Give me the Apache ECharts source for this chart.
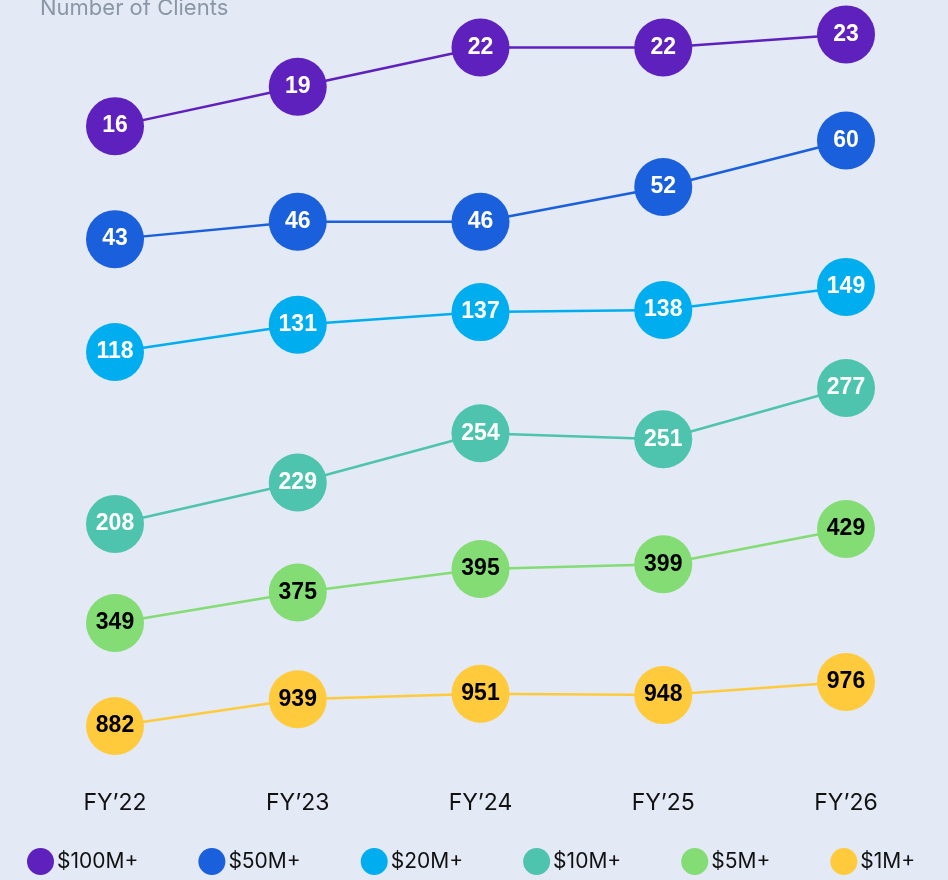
<!DOCTYPE html>
<html>
<head>
<meta charset="utf-8">
<script src="https://cdn.jsdelivr.net/npm/echarts@6/dist/echarts.min.js"></script>
<style>
  html, body { margin: 0; padding: 0; background: #E3E9F5; }
  #chart { width: 948px; height: 880px; }
</style>
</head>
<body>
<div id="chart"></div>
<script>
const years = ['FY’22', 'FY’23', 'FY’24', 'FY’25', 'FY’26']
const tierNames = ['$100M+', '$50M+', '$20M+', '$10M+', '$5M+', '$1M+']
const clients100M = [16, 19, 22, 22, 23]
const clients50M = [43, 46, 46, 52, 60]
const clients20M = [118, 131, 137, 138, 149]
const clients10M = [208, 229, 254, 251, 277]
const clients5M = [349, 375, 395, 399, 429]
const clients1M = [882, 939, 951, 948, 976]

const seriesData = [clients100M, clients50M, clients20M, clients10M, clients5M, clients1M]
const colors = ['#5E21BE', '#1A5FDB', '#00AEEF', '#4EC4AE', '#84DC74', '#FFCB3D']
const labelColors = ['#fff', '#fff', '#fff', '#fff', '#000', '#000']
// each tier sits in its own band, so each gets its own hidden y axis
const axisRanges = [
  [-33.9, 24.1],
  [-50.3, 80.8],
  [-85.8, 276.1],
  [78.0, 463.8],
  [215.4, 862.2],
  [766.6, 2390.5]
]

const chart = echarts.init(document.getElementById('chart'))
const option = {
  backgroundColor: '#E3E9F5',
  animation: false,
  title: {
    text: 'Number of Clients',
    left: 35,
    top: -8,
    textStyle: { color: '#8A97A6', fontSize: 22, fontWeight: 'normal', fontFamily: 'Inter' }
  },
  legend: {
    data: tierNames,
    bottom: 0,
    left: 22,
    icon: 'circle',
    itemWidth: 27,
    itemHeight: 27,
    itemGap: 60,
    textStyle: { color: '#111', fontSize: 21, fontFamily: 'Inter', padding: [0, 0, 0, -2] }
  },
  grid: { top: 20, height: 760, left: 115, right: 102 },
  xAxis: {
    type: 'category',
    boundaryGap: false,
    data: years,
    axisLine: { show: false },
    axisTick: { show: false },
    axisLabel: { margin: 12, color: '#111', fontSize: 23, fontFamily: 'Inter' }
  },
  yAxis: axisRanges.map(r => ({ type: 'value', min: r[0], max: r[1], show: false })),
  series: seriesData.map((d, i) => ({
    name: tierNames[i],
    type: 'line',
    yAxisIndex: i,
    data: d,
    color: colors[i],
    symbol: 'circle',
    symbolSize: 58,
    lineStyle: { width: 2.5, color: colors[i] },
    itemStyle: { color: colors[i] },
    label: {
      show: true,
      position: 'inside',
      color: labelColors[i],
      fontSize: 23,
      fontWeight: 'bold',
      fontFamily: 'Liberation Sans'
    }
  }))
}
chart.setOption(option)
window.addEventListener('resize', () => chart.resize())
</script>
</body>
</html>
